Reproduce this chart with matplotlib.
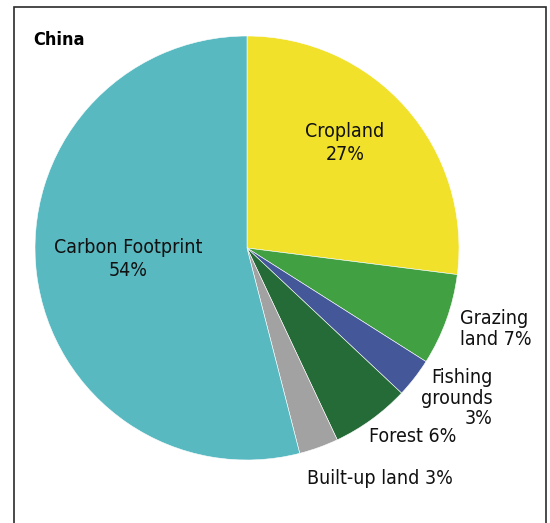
import matplotlib.pyplot as plt
from matplotlib.patches import Rectangle

categories = ['Cropland', 'Grazing land', 'Fishing grounds', 'Forest', 'Built-up land', 'Carbon Footprint']
shares = [27, 7, 3, 6, 3, 54]
labels = ['Cropland\n27%', 'Grazing\nland 7%', 'Fishing\ngrounds\n3%', 'Forest 6%',
          'Built-up land 3%', 'Carbon Footprint\n54%']
colors = ['#F1E12B', '#41A041', '#445799', '#256B37', '#A2A2A2', '#58B9C1']

W, H = 550, 523


def main():
    plt.rcParams['font.family'] = ['DejaVu Sans']
    plt.rcParams['font.stretch'] = 'condensed'
    fig = plt.figure(figsize=(W / 100, H / 100), dpi=100)
    ax = fig.add_axes([0, 0, 1, 1])

    # pixel coords, y measured from the bottom
    cx, cy, r = 247, H - 248, 212
    ax.pie(shares, colors=colors, startangle=90, counterclock=False,
           center=(cx, cy), radius=r,
           wedgeprops=dict(edgecolor='white', linewidth=0.4))

    ax.set_xlim(0, W)
    ax.set_ylim(0, H)
    ax.set_aspect('equal')
    ax.axis('off')

    # frame
    ax.add_patch(Rectangle((13.5, -20), 532.5, H - 6.5 + 20, fill=False,
                           edgecolor='#2b2b2b', linewidth=1.2, clip_on=False))

    ax.text(33, H - 40, 'China', fontsize=13, fontweight='bold', va='center', ha='left')

    # label positions in pixels (x, y from top, ha, line spacing)
    pos = [(345, 143, 'center', 1.25), (460, 329, 'left', 1.1), (493, 398, 'right', 1.1),
           (413, 437, 'center', 1.1), (380, 478, 'center', 1.1), (128, 259, 'center', 1.28)]
    for lab, (x, y, ha, ls) in zip(labels, pos):
        ax.text(x, H - y, lab, fontsize=14, ha=ha, va='center',
                multialignment=ha, linespacing=ls, color='#111111')

    fig.savefig('out.png', dpi=100)


if __name__ == '__main__': main()
